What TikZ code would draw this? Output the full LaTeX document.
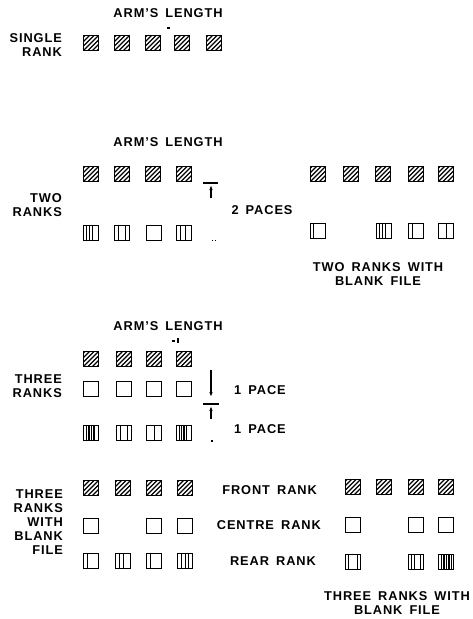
\documentclass[tikz,border=0pt]{standalone}
\usepackage{fontspec}
\setmainfont{Liberation Sans}[LetterSpace=7,WordSpace=1.6]
\usetikzlibrary{arrows.meta}
\begin{document}
\begin{tikzpicture}[x=1pt,y=-1pt,
  sq/.style={draw, line width=1.5pt, minimum size=15pt, inner sep=0pt},
  front/.style={sq, path picture={
      \foreach \k in {-18,-13.5,...,16}{
        \draw[line width=1.3pt] ([xshift=\k pt]path picture bounding box.south west) -- ++(20pt,20pt);}}},
  mid/.style={sq},
  rear/.style={sq, path picture={
      \foreach \k in {#1}{
        \draw[line width=1.2pt] ([xshift=\k pt]path picture bounding box.south west) -- ([xshift=\k pt]path picture bounding box.north west);}}},
  lbl/.style={font=\fontsize{12.8}{14}\selectfont\bfseries, inner sep=0pt},
  side/.style={lbl, align=right, anchor=east},
  tickline/.style={line width=1.2pt},
  tipline/.style={line width=1.2pt, -{Latex[length=5pt,width=3.5pt]}}
]
\useasboundingbox (0,0) rectangle (472,619);

% ---------- SINGLE RANK ----------
\node[lbl] (al1) at (168,13) {ARM'S LENGTH};
\coordinate (d1a) at (167,28); \coordinate (d1b) at (170,28);
\draw[tickline] (d1a) -- (d1b);
\node[side] (sr) at (62,45) {SINGLE\\RANK};
\node[front] (s1) at (91,43) {};
\node[front] (s2) at (122,43) {};
\node[front] (s3) at (153,43) {};
\node[front] (s4) at (182,43) {};
\node[front] (s5) at (214,43) {};

% ---------- TWO RANKS ----------
\node[lbl] (al2) at (168,142) {ARM'S LENGTH};
\node[side] (tr) at (62,205) {TWO\\RANKS};
\node[front] (tf1) at (91,174) {};
\node[front] (tf2) at (122,174) {};
\node[front] (tf3) at (153,174) {};
\node[front] (tf4) at (184,174) {};
\node[rear={3,6,9}] (tr1) at (91,233) {};
\node[rear={4,11}] (tr2) at (122,233) {};
\node[mid] (tr3) at (154,233) {};
\node[rear={4,9}] (tr4) at (184,233) {};
\coordinate (h2a) at (203,183); \coordinate (h2b) at (218,183);
\draw[tickline] (h2a) -- (h2b);
\coordinate (v2a) at (211,198); \coordinate (v2b) at (211,185);
\draw[tipline] (v2a) -- (v2b);
\coordinate (q2a) at (212,240); \coordinate (q2b) at (218,240);
\draw[line width=1pt, dotted] (q2a) -- (q2b);
\node[lbl] (tp) at (262,210) {2 PACES};

\node[front] (rf1) at (318,174) {};
\node[front] (rf2) at (351,174) {};
\node[front] (rf3) at (383,174) {};
\node[front] (rf4) at (416,174) {};
\node[front] (rf5) at (446,174) {};
\node[rear={3}] (rr1) at (318,231) {};
\node[rear={3,6,9}] (rr3) at (384,231) {};
\node[rear={4}] (rr4) at (416,231) {};
\node[rear={8}] (rr5) at (446,231) {};
\node[lbl, align=center] (twb) at (378,274) {TWO RANKS WITH\\BLANK FILE};

% ---------- THREE RANKS ----------
\node[lbl] (al3) at (168,326) {ARM'S LENGTH};
\coordinate (d3a) at (172,341); \coordinate (d3b) at (175,341);
\draw[tickline] (d3a) -- (d3b);
\coordinate (d3c) at (178,338); \coordinate (d3d) at (178,343);
\draw[tickline] (d3c) -- (d3d);
\node[side] (thr) at (62,386) {THREE\\RANKS};
\node[front] (hf1) at (91,359) {};
\node[front] (hf2) at (124,359) {};
\node[front] (hf3) at (154,359) {};
\node[front] (hf4) at (184,359) {};
\node[mid] (hm1) at (91,389) {};
\node[mid] (hm2) at (124,389) {};
\node[mid] (hm3) at (154,389) {};
\node[mid] (hm4) at (184,389) {};
\node[rear={3,5.5,8,10.5}] (hr1) at (91,433) {};
\node[rear={4,11}] (hr2) at (124,433) {};
\node[rear={8}] (hr3) at (154,433) {};
\node[rear={3,5,7.5,10}] (hr4) at (184,433) {};
\coordinate (v3a) at (211,370); \coordinate (v3b) at (211,397);
\draw[tipline] (v3a) -- (v3b);
\coordinate (h3a) at (203,404); \coordinate (h3b) at (219,404);
\draw[tickline] (h3a) -- (h3b);
\coordinate (v3c) at (211,419); \coordinate (v3d) at (211,406);
\draw[tipline] (v3c) -- (v3d);
\coordinate (d3e) at (211,441); \coordinate (d3f) at (213,441);
\draw[tickline] (d3e) -- (d3f);
\node[lbl] (p1) at (260,390) {1 PACE};
\node[lbl] (p2) at (260,429) {1 PACE};

% ---------- THREE RANKS WITH BLANK FILE ----------
\node[side] (tbf) at (63,522) {THREE\\RANKS\\WITH\\BLANK\\FILE};
\node[front] (bf1) at (91,488) {};
\node[front] (bf2) at (123,488) {};
\node[front] (bf3) at (154,488) {};
\node[front] (bf4) at (185,488) {};
\node[mid] (bm1) at (91,526) {};
\node[mid] (bm3) at (154,526) {};
\node[mid] (bm4) at (185,526) {};
\node[rear={4}] (br1) at (91,561) {};
\node[rear={4,8}] (br2) at (123,561) {};
\node[rear={4}] (br3) at (154,561) {};
\node[rear={4,8,11}] (br4) at (185,561) {};

\node[lbl, anchor=east] (frk) at (317,490) {FRONT RANK};
\node[lbl, anchor=east] (crk) at (321,525) {CENTRE RANK};
\node[lbl, anchor=east] (rrk) at (316,561) {REAR RANK};

\node[front] (gf1) at (353,487) {};
\node[front] (gf2) at (384,487) {};
\node[front] (gf3) at (416,487) {};
\node[front] (gf4) at (446,487) {};
\node[mid] (gm1) at (353,525) {};
\node[mid] (gm3) at (416,525) {};
\node[mid] (gm4) at (446,525) {};
\node[rear={3,12}] (gr1) at (353,562) {};
\node[rear={3,6,12}] (gr3) at (416,562) {};
\node[rear={3,5.5,8,10.5,13}] (gr4) at (446,562) {};
\node[lbl, align=center] (trb) at (397,603) {THREE RANKS WITH\\BLANK FILE};
\end{tikzpicture}
\end{document}
